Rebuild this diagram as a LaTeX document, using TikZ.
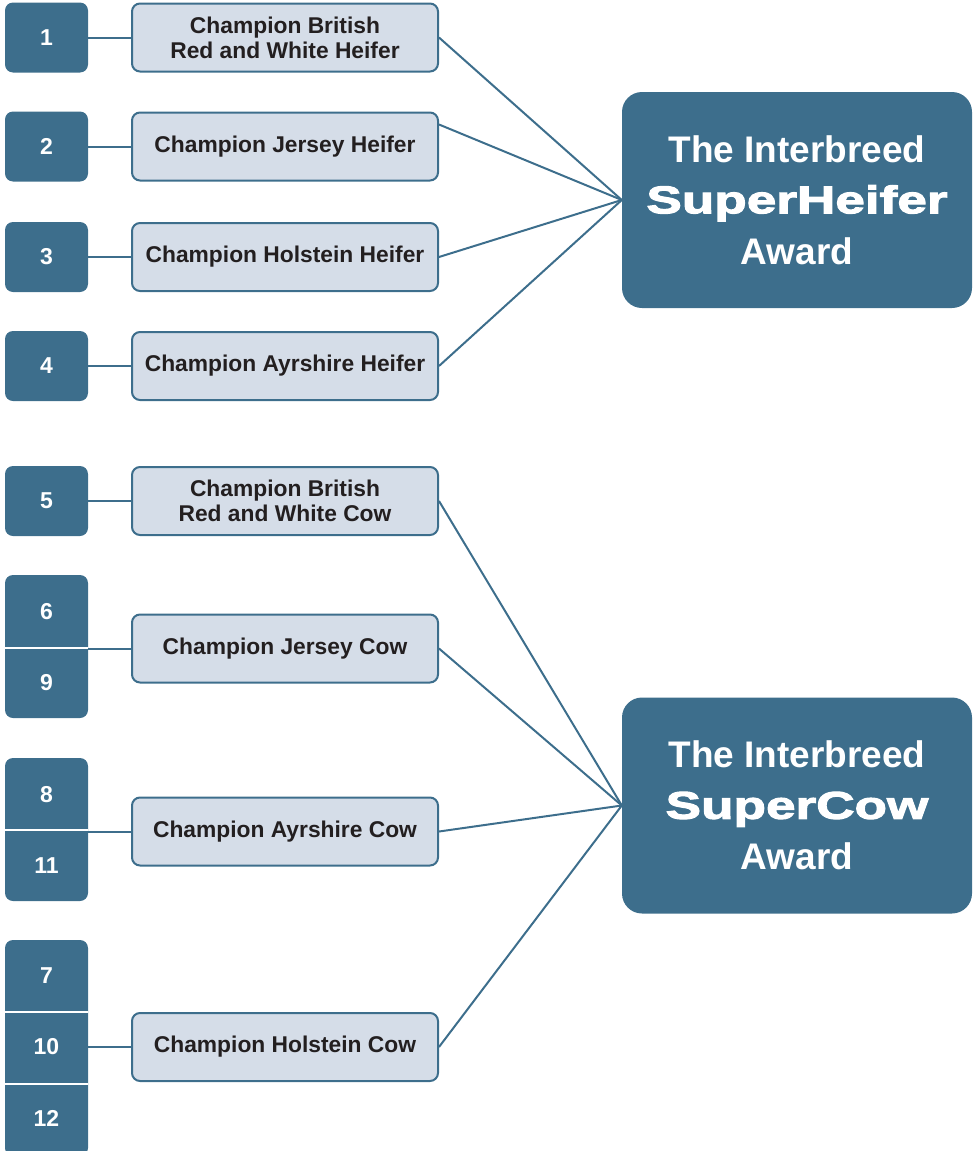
\documentclass[tikz,border=0pt]{standalone}
\usepackage{fontspec}
\setmainfont{Liberation Sans}
\newfontfamily\superfont[FakeStretch=1.38,FakeBold=3]{Liberation Sans Bold}
\usepackage{xcolor}

\definecolor{showblue}{RGB}{61,110,140}
\definecolor{showgrey}{RGB}{213,221,232}
\definecolor{showink}{RGB}{35,31,32}

\begin{document}
\begin{tikzpicture}[x=1pt, y=-1pt,
    numbox/.style={rectangle, rounded corners=8pt, fill=showblue, minimum width=83pt, inner sep=0pt, text=white, font=\fontsize{23}{25}\selectfont\bfseries},
    numtext/.style={text=white, inner sep=0pt, font=\fontsize{23}{25}\selectfont\bfseries},
    classbox/.style={rectangle, rounded corners=8pt, draw=showblue, line width=2pt, fill=showgrey, minimum width=306pt, minimum height=68pt, inner sep=0pt, align=center, text=showink, font=\fontsize{22.8}{25}\selectfont\bfseries},
    awardbox/.style={rectangle, rounded corners=20pt, fill=showblue, minimum width=350pt, minimum height=216pt, inner sep=0pt, align=center, text=white, font=\fontsize{37}{51}\selectfont\bfseries},
    link/.style={draw=showblue, line width=2pt},
    cellsep/.style={draw=white, line width=2pt}]

            \useasboundingbox (0,0) rectangle (979,1151);

            % Heifer classes
            \foreach \n/\y/\txt in {1/37.5/{Champion British\\Red and White Heifer}, 2/146.5/{Champion Jersey Heifer}, 3/257/{Champion Holstein Heifer}, 4/366/{Champion Ayrshire Heifer}}
            {
            \node[numbox, minimum height=70pt] (N\n) at (46.5,\y) {\n};
            \node[classbox] (L\n) at (285,\y) {\txt};
            \draw[link] (N\n) -- (L\n);
            }

            % Cow classes
            \node[classbox] (L5) at (285,501) {Champion British\\Red and White Cow};
            \node[classbox] (L6) at (285,648.5) {Champion Jersey Cow};
            \node[classbox] (L8) at (285,831.5) {Champion Ayrshire Cow};
            \node[classbox] (L7) at (285,1047) {Champion Holstein Cow};

            % Cow numbers
            \node[numbox, minimum height=70pt] (N5) at (46.5,501) {5};
            \node[numbox, minimum height=143pt] (N6) at (46.5,646.5) {};
            \node[numbox, minimum height=143pt] (N8) at (46.5,829.5) {};
            \node[numbox, minimum height=216pt] (N7) at (46.5,1048) {};

            \foreach \n/\y in {6/612, 9/683, 8/795, 11/866, 7/976, 10/1047, 12/1118}
            \node[numtext] (T\n) at (46.5,\y) {\n};

            \foreach \y in {648, 830, 1012, 1084}
            \draw[cellsep] (5,\y) -- (88,\y);

            \foreach \n in {5,6,8,7}
            \draw[link] (N\n.east |- L\n) -- (L\n);

            % Awards
            \node[awardbox] (SH) at (797,200) {The Interbreed\\{\fontsize{38.5}{51}\superfont SuperHeifer}\\Award};
            \node[awardbox] (SC) at (797,805.5) {The Interbreed\\{\fontsize{38.5}{51}\superfont SuperCow}\\Award};

            % Connect classes to awards
            \foreach \n in {1,3,4}
            \draw[link] (L\n.east) -- (SH.west);
            \draw[link] ([yshift=22pt]L2.east) -- (SH.west);

            \foreach \n in {5,6,8,7}
            \draw[link] (L\n.east) -- (SC.west);

        \end{tikzpicture}
\end{document}
